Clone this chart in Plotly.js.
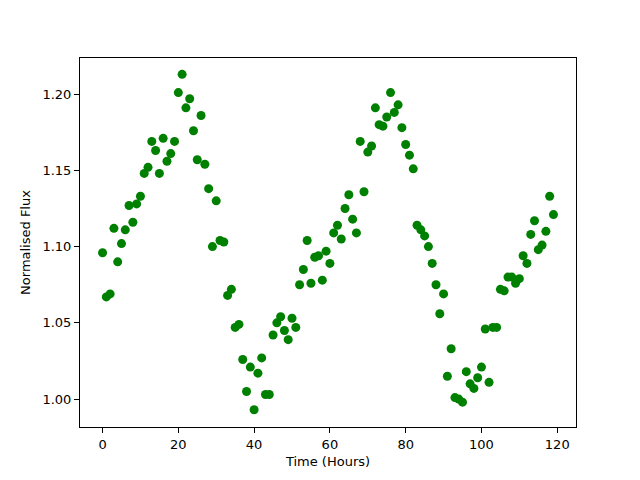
<!DOCTYPE html>
<html>
<head>
<meta charset="utf-8">
<script src="https://cdn.plot.ly/plotly-3.0.1.min.js"></script>
<style>html,body{margin:0;padding:0;background:#fff;}#chart{width:640px;height:480px;}</style>
</head>
<body>
<div id="chart"></div>
<script>
const hours = Array.from({length: 120}, (_, i) => i);
const flux = [
  1.096, 1.067, 1.069, 1.112, 1.090, 1.102, 1.111, 1.127, 1.116, 1.128,
  1.133, 1.148, 1.152, 1.169, 1.163, 1.148, 1.171, 1.156, 1.161, 1.169,
  1.201, 1.213, 1.191, 1.197, 1.176, 1.157, 1.186, 1.154, 1.138, 1.100,
  1.130, 1.104, 1.103, 1.068, 1.072, 1.047, 1.049, 1.026, 1.005, 1.021,
  0.993, 1.017, 1.027, 1.003, 1.003, 1.042, 1.050, 1.054, 1.045, 1.039,
  1.053, 1.047, 1.075, 1.085, 1.104, 1.076, 1.093, 1.094, 1.078, 1.097,
  1.089, 1.109, 1.114, 1.105, 1.125, 1.134, 1.118, 1.109, 1.169, 1.136,
  1.162, 1.166, 1.191, 1.180, 1.179, 1.185, 1.201, 1.188, 1.193, 1.178,
  1.167, 1.160, 1.151, 1.114, 1.111, 1.107, 1.100, 1.089, 1.075, 1.056,
  1.069, 1.015, 1.033, 1.001, 1.000, 0.998, 1.018, 1.010, 1.007, 1.014,
  1.021, 1.046, 1.011, 1.047, 1.047, 1.072, 1.071, 1.080, 1.080, 1.076,
  1.079, 1.094, 1.089, 1.108, 1.117, 1.098, 1.101, 1.110, 1.133, 1.121
];
const xTickVals = [0, 20, 40, 60, 80, 100, 120];
const yTickVals = [1.00, 1.05, 1.10, 1.15, 1.20];
const xTitle = "Time (Hours)";
const yTitle = "Normalised Flux";

const axisCommon = {
  showgrid: false, zeroline: false,
  showline: true, linecolor: '#000', linewidth: 1, mirror: true,
  ticks: 'outside', ticklen: 5, tickwidth: 1, tickcolor: '#000',
  tickfont: {family: 'DejaVu Sans', size: 13, color: '#000'}
};

Plotly.newPlot('chart', [{
  x: hours, y: flux, type: 'scatter', mode: 'markers',
  marker: {color: '#008000', size: 9},
  hoverinfo: 'none'
}], {
  width: 640, height: 480,
  margin: {l: 80, r: 64, t: 58, b: 53},
  paper_bgcolor: '#fff', plot_bgcolor: '#fff',
  showlegend: false,
  font: {family: 'DejaVu Sans', color: '#000'},
  xaxis: Object.assign({}, axisCommon, {
    range: [-5.95, 124.95], tickvals: xTickVals,
    title: {text: xTitle, font: {family: 'DejaVu Sans', size: 13, color: '#000'}, standoff: 6}
  }),
  yaxis: Object.assign({}, axisCommon, {
    range: [0.9817, 1.2237], tickvals: yTickVals, tickformat: '.2f',
    title: {text: yTitle, font: {family: 'DejaVu Sans', size: 13, color: '#000'}, standoff: 8}
  })
}, {staticPlot: true});
</script>
</body>
</html>
